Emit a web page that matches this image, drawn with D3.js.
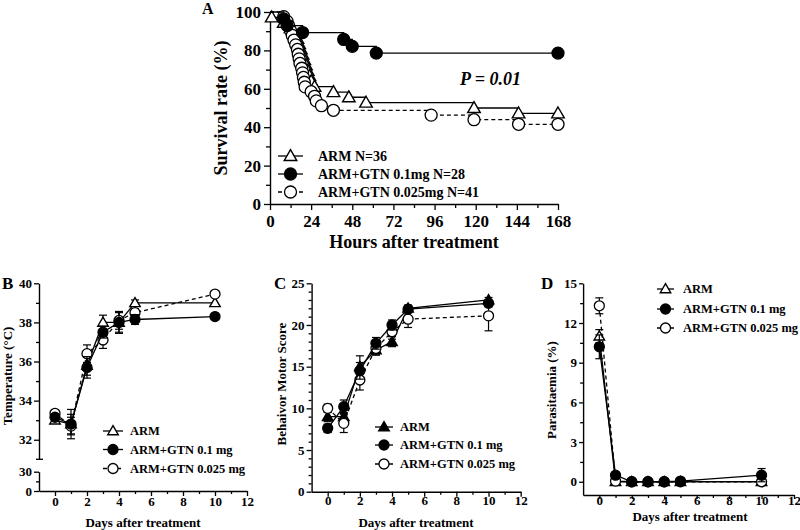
<!DOCTYPE html>
<html>
<head>
<meta charset="utf-8">
<script src="https://cdn.jsdelivr.net/npm/d3@7"></script>
<style>
  body { margin: 0; background: #fff; }
  svg text { font-family: "Liberation Serif", "Times New Roman", serif; font-weight: bold; fill: #000; }
</style>
</head>
<body>
<svg width="800" height="530"></svg>
<script>
// ---------- panel A : Kaplan-Meier survival ----------
var hourTicks = [0, 24, 48, 72, 96, 120, 144, 168];
var hourMinor = [12, 36, 60, 84, 108, 132, 156];
var survTicks = [0, 20, 40, 60, 80, 100];
var survMinor = [10, 30, 50, 70, 90];

var armHours = [1, 8, 12, 14, 16, 17, 18, 19, 20, 21, 22, 23, 24, 26, 37, 46, 56, 119, 145, 168];
var armSurv = [97.2, 94.4, 91.7, 88.9, 86.1, 83.3, 80.6, 77.8, 75.0, 72.2, 69.4, 66.7, 63.9, 61.1, 58.3, 55.6, 52.8, 50.0, 47.2, 47.2];
var gtnHighHours = [8, 10, 19, 43, 48, 62, 168];
var gtnHighSurv = [96.4, 92.9, 89.3, 85.7, 82.1, 78.6, 78.6];
var gtnLowHours = [8, 10, 11, 12, 13, 14, 15, 16, 16.5, 17, 17.5, 18.5, 19, 19.5, 20, 20.5, 24, 26, 27, 30, 37, 94, 119, 145, 168];
var gtnLowSurv = [97.6, 95.1, 92.7, 90.2, 87.8, 85.4, 82.9, 80.5, 78.0, 75.6, 73.2, 70.7, 68.3, 65.9, 63.4, 61.0, 58.5, 56.1, 53.7, 51.2, 48.8, 46.3, 43.9, 41.5, 41.5];
var survLegend = ["ARM N=36", "ARM+GTN 0.1mg N=28", "ARM+GTN 0.025mg N=41"];

// ---------- panels B, C, D ----------
var days = [0, 1, 2, 3, 4, 5, 10];
var dayTicks = [0, 2, 4, 6, 8, 10, 12];
var dayMinor = [1, 3, 5, 7, 9, 11];
var groupLegend = ["ARM", "ARM+GTN 0.1 mg", "ARM+GTN 0.025 mg"];

// B temperature
var tempArm = [33.0, 32.8, 35.8, 38.0, 38.0, 39.0, 39.0];
var tempArmSe = [0.15, 0.75, 0.5, 0.37, 0.5, 0.15, 0];
var tempHigh = [33.15, 32.8, 35.7, 37.5, 38.0, 38.15, 38.3];
var tempHighSe = [0.15, 0.5, 0.55, 0.3, 0.56, 0.25, 0];
var tempLow = [33.35, 32.7, 36.4, 37.1, 38.1, 38.5, 39.45];
var tempLowSe = [0.1, 0.45, 0.45, 0.43, 0.45, 0.2, 0];

// C behaviour motor score
var motorArm = [9.0, 9.0, 15.0, 17.0, 18.0, 22.0, 23.0];
var motorArmSe = [0.6, 0.5, 1.3, 0.6, 0.6, 0.4, 0.3];
var motorHigh = [7.6, 10.2, 14.5, 17.8, 20.0, 21.9, 22.6];
var motorHighSe = [0.5, 0.8, 1.0, 0.7, 0.6, 0.4, 0.4];
var motorLow = [10.0, 8.2, 13.4, 17.2, 19.2, 20.7, 21.1];
var motorLowSe = [0.5, 1.1, 1.2, 0.8, 0.9, 1.0, 1.8];

// D parasitaemia
var paraArm = [11.0, 0, 0, 0, 0, 0, 0];
var paraArmSe = [0.5, 0, 0, 0, 0, 0, 0];
var paraHigh = [10.2, 0.5, 0, 0, 0, 0.05, 0.5];
var paraHighSe = [0.9, 0.2, 0, 0, 0, 0, 0.5];
var paraLow = [13.3, 0.05, 0, 0, 0, 0, 0];
var paraLowSe = [0.6, 0, 0, 0, 0, 0, 0];

var svg = d3.select("svg");

// draw one marker
function marker(g, type, cx, cy, r) {
  if (type == "tri" || type == "triFill") {
    g.append("path")
      .attr("d", d3.symbol(d3.symbolTriangle, r * r * 1.9)())
      .attr("transform", "translate(" + cx + "," + (cy + r * 0.15) + ")")
      .attr("fill", type == "tri" ? "#fff" : "#000")
      .attr("stroke", "#000").attr("stroke-width", 1.4);
  } else {
    g.append("circle").attr("cx", cx).attr("cy", cy).attr("r", r)
      .attr("fill", type == "circle" ? "#fff" : "#000")
      .attr("stroke", "#000").attr("stroke-width", 1.3);
  }
}

function styleAxis(ax, fs) {
  ax.attr("font-family", null).attr("font-size", fs);
  ax.select(".domain").attr("stroke", "#000").attr("stroke-width", 1.4);
  ax.selectAll(".tick line").attr("stroke", "#000").attr("stroke-width", 1.3);
  ax.selectAll(".tick text").attr("fill", "#000");
}

function drawAxes(g, x, y, yAt, xAt, o) {
  var xa = g.append("g").attr("transform", "translate(0," + xAt + ")")
    .call(d3.axisBottom(x).tickValues(o.xt).tickSize(o.ts).tickSizeOuter(0).tickPadding(o.xpad).tickFormat(d3.format("d")));
  styleAxis(xa, o.fs);
  var xm = g.append("g").attr("transform", "translate(0," + xAt + ")")
    .call(d3.axisBottom(x).tickValues(o.xm).tickSize(o.ms).tickSizeOuter(0).tickFormat(""));
  styleAxis(xm, o.fs);
  xm.select(".domain").remove();
  var ya = g.append("g").attr("transform", "translate(" + yAt + ",0)")
    .call(d3.axisLeft(y).tickValues(o.yt).tickSize(o.ts).tickSizeOuter(0).tickPadding(o.ypad).tickFormat(d3.format("d")));
  styleAxis(ya, o.fs);
  var ym = g.append("g").attr("transform", "translate(" + yAt + ",0)")
    .call(d3.axisLeft(y).tickValues(o.ym).tickSize(o.ms).tickSizeOuter(0).tickFormat(""));
  styleAxis(ym, o.fs);
  ym.select(".domain").remove();
  return ya;
}

function legend(g, labels, types, dashes, x0, x1, xt, rows, r, fs) {
  labels.forEach(function(lab, i) {
    var row = g.append("g");
    row.append("line").attr("x1", x0).attr("x2", x1).attr("y1", rows[i]).attr("y2", rows[i])
      .attr("stroke", "#000").attr("stroke-width", 1.3)
      .attr("stroke-dasharray", dashes[i] ? "4,3" : null);
    marker(row, types[i], (x0 + x1) / 2, rows[i], r);
    row.append("text").attr("x", xt).attr("y", rows[i] + fs * 0.35)
      .attr("font-size", fs).text(lab);
  });
}

// ================= PANEL A =================
var gA = svg.append("g");
var xA = d3.scaleLinear().domain([0, 168]).range([270, 558]);
var yA = d3.scaleLinear().domain([0, 100]).range([204, 12]);

drawAxes(gA, xA, yA, 270, 204, {
  xt: hourTicks, xm: hourMinor, yt: survTicks, ym: survMinor,
  ts: 6, ms: 4, fs: 17, xpad: 5, ypad: 3
});

var kmSeries = [
  { t: armHours, s: armSurv, type: "tri", dash: false },
  { t: gtnLowHours, s: gtnLowSurv, type: "circle", dash: true },
  { t: gtnHighHours, s: gtnHighSurv, type: "dot", dash: false }
];
var stepLine = d3.line().curve(d3.curveStepAfter)
  .x(function(d) { return xA(d[0]); }).y(function(d) { return yA(d[1]); });

kmSeries.forEach(function(se) {
  var pts = [[0, 100]].concat(se.t.map(function(t, i) { return [t, se.s[i]]; }));
  gA.append("path").attr("d", stepLine(pts)).attr("fill", "none")
    .attr("stroke", "#000").attr("stroke-width", 1.3)
    .attr("stroke-dasharray", se.dash ? "4,3" : null);
  var mg = gA.append("g");
  se.t.forEach(function(t, i) { marker(mg, se.type, xA(t), yA(se.s[i]), 6); });
});

gA.append("text").attr("x", 414).attr("y", 248).attr("text-anchor", "middle")
  .attr("font-size", 18).text("Hours after treatment");
gA.append("text").attr("transform", "translate(227,108) rotate(-90)").attr("text-anchor", "middle")
  .attr("font-size", 18).text("Survival rate (%)");
gA.append("text").attr("x", 202).attr("y", 14).attr("font-size", 16).text("A");
gA.append("text").attr("x", 460).attr("y", 85).attr("font-size", 18)
  .attr("font-style", "italic").text("P = 0.01");

legend(gA, survLegend, ["tri", "dot", "circle"], [false, false, true],
  278, 303, 318, [156, 174, 192], 6, 14);

// ============ generic time-course panel ============
function timePanel(g, x, y, series) {
  var line = d3.line().x(function(d, i) { return x(days[i]); }).y(function(d) { return y(d); });
  series.forEach(function(se) {
    var eg = g.append("g");
    se.v.forEach(function(v, i) {
      if (!se.e[i]) return;
      var cx = x(days[i]), lo = y(v - se.e[i]), hi = y(v + se.e[i]);
      eg.append("line").attr("x1", cx).attr("x2", cx).attr("y1", lo).attr("y2", hi)
        .attr("stroke", "#000").attr("stroke-width", 1.2);
      [lo, hi].forEach(function(yy) {
        eg.append("line").attr("x1", cx - 4).attr("x2", cx + 4).attr("y1", yy).attr("y2", yy)
          .attr("stroke", "#000").attr("stroke-width", 1.2);
      });
    });
    g.append("path").attr("d", line(se.v)).attr("fill", "none")
      .attr("stroke", "#000").attr("stroke-width", 1.3)
      .attr("stroke-dasharray", se.dash ? "4,3" : null);
    var mg = g.append("g");
    se.v.forEach(function(v, i) { marker(mg, se.type, x(days[i]), y(v), 5); });
  });
}

// ================= PANEL B =================
var gB = svg.append("g");
var xB = d3.scaleLinear().domain([-1, 12]).range([39, 247]);
var yB = d3.scaleLinear().domain([31, 40]).range([459.3, 283.3]);
var yBlow = d3.scaleLinear().domain([0, 30]).range([491, 471.7]);

var xb = gB.append("g").attr("transform", "translate(0,491)")
  .call(d3.axisBottom(xB).tickValues(dayTicks).tickSize(5).tickSizeOuter(0).tickPadding(1));
styleAxis(xb, 13);
var xbm = gB.append("g").attr("transform", "translate(0,491)")
  .call(d3.axisBottom(xB).tickValues(dayMinor).tickSize(3).tickSizeOuter(0).tickFormat(""));
styleAxis(xbm, 13); xbm.select(".domain").remove();

var ybu = gB.append("g").attr("transform", "translate(39,0)")
  .call(d3.axisLeft(yB).tickValues([32, 34, 36, 38, 40]).tickSize(5).tickSizeOuter(0).tickPadding(2));
styleAxis(ybu, 13);
var ybum = gB.append("g").attr("transform", "translate(39,0)")
  .call(d3.axisLeft(yB).tickValues([33, 35, 37, 39]).tickSize(3).tickSizeOuter(0).tickFormat(""));
styleAxis(ybum, 13); ybum.select(".domain").remove();
gB.append("line").attr("x1", 36).attr("x2", 43).attr("y1", yB(31)).attr("y2", yB(31))
  .attr("stroke", "#000").attr("stroke-width", 1.3);
var ybl = gB.append("g").attr("transform", "translate(39,0)")
  .call(d3.axisLeft(yBlow).tickValues([0, 30]).tickSize(5).tickSizeOuter(0).tickPadding(2));
styleAxis(ybl, 13);
var yblm = gB.append("g").attr("transform", "translate(39,0)")
  .call(d3.axisLeft(yBlow).tickValues([15]).tickSize(3).tickSizeOuter(0).tickFormat(""));
styleAxis(yblm, 13); yblm.select(".domain").remove();

timePanel(gB, xB, yB, [
  { v: tempArm, e: tempArmSe, type: "tri", dash: false },
  { v: tempLow, e: tempLowSe, type: "circle", dash: true },
  { v: tempHigh, e: tempHighSe, type: "dot", dash: false }
]);
legend(gB, groupLegend, ["tri", "dot", "circle"], [false, false, true],
  103, 123, 130, [431, 449.5, 468.5], 5, 12.5);
gB.append("text").attr("x", 143).attr("y", 527).attr("text-anchor", "middle")
  .attr("font-size", 13).text("Days after treatment");
gB.append("text").attr("transform", "translate(12,376) rotate(-90)").attr("text-anchor", "middle")
  .attr("font-size", 13).text("Temperature (\u00B0C)");
gB.append("text").attr("x", 2).attr("y", 289).attr("font-size", 17).text("B");

// ================= PANEL C =================
var gC = svg.append("g");
var xC = d3.scaleLinear().domain([-1, 12]).range([311.6, 520.7]);
var yC = d3.scaleLinear().domain([0, 25]).range([491.7, 283.3]);
drawAxes(gC, xC, yC, 311.6, 491.7, {
  xt: dayTicks, xm: dayMinor, yt: [0, 5, 10, 15, 20, 25],
  ym: d3.range(1, 25).filter(function(v) { return v % 5 != 0; }),
  ts: 5, ms: 3, fs: 13, xpad: -1, ypad: 2
});
timePanel(gC, xC, yC, [
  { v: motorArm, e: motorArmSe, type: "triFill", dash: false },
  { v: motorLow, e: motorLowSe, type: "circle", dash: true },
  { v: motorHigh, e: motorHighSe, type: "dot", dash: false }
]);
legend(gC, groupLegend, ["triFill", "dot", "circle"], [false, false, true],
  375, 393, 400, [427, 445, 464], 5, 12.5);
gC.append("text").attr("x", 416).attr("y", 527).attr("text-anchor", "middle")
  .attr("font-size", 13).text("Days after treatment");
gC.append("text").attr("transform", "translate(286,384) rotate(-90)").attr("text-anchor", "middle")
  .attr("font-size", 13).text("Behaivor Motor Score");
gC.append("text").attr("x", 274).attr("y", 289).attr("font-size", 17).text("C");

// ================= PANEL D =================
var gD = svg.append("g");
var xD = d3.scaleLinear().domain([-1, 12]).range([583.1, 794]);
var yD = d3.scaleLinear().domain([-1, 15]).range([495, 283.3]);
drawAxes(gD, xD, yD, 583.1, 495, {
  xt: dayTicks, xm: dayMinor, yt: [0, 3, 6, 9, 12, 15], ym: [1.5, 4.5, 7.5, 10.5, 13.5],
  ts: 4, ms: 3, fs: 13, xpad: -3, ypad: 2
});
timePanel(gD, xD, yD, [
  { v: paraArm, e: paraArmSe, type: "tri", dash: false },
  { v: paraLow, e: paraLowSe, type: "circle", dash: true },
  { v: paraHigh, e: paraHighSe, type: "dot", dash: false }
]);
legend(gD, groupLegend, ["tri", "dot", "circle"], [false, false, true],
  657, 674, 683, [289, 309, 328], 5, 12.5);
gD.append("text").attr("x", 690).attr("y", 521).attr("text-anchor", "middle")
  .attr("font-size", 13).text("Days after treatment");
gD.append("text").attr("transform", "translate(556,390) rotate(-90)").attr("text-anchor", "middle")
  .attr("font-size", 13).text("Parasitaemia (%)");
gD.append("text").attr("x", 541).attr("y", 289).attr("font-size", 17).text("D");
</script>
</body>
</html>
